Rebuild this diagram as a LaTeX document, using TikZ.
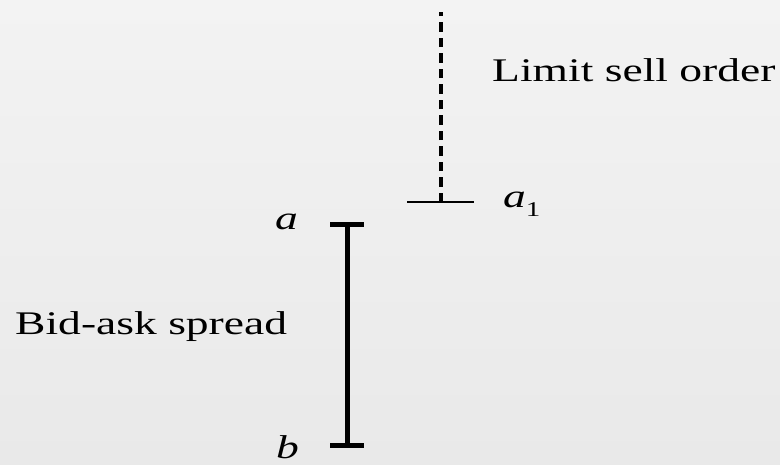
\documentclass[tikz,border=0pt]{standalone}
\usepackage{fontspec}
\usepackage{graphicx}
\setmainfont{Liberation Serif}
\definecolor{bgtop}{RGB}{243,243,243}
\definecolor{bgbot}{RGB}{233,233,233}
\newcommand{\wide}[1]{\scalebox{1.38}[1]{#1}}
\tikzset{
  lbl/.style={inner sep=0pt, anchor=base west, font=\fontsize{33}{40}\selectfont},
  spreadbar/.style={line width=5pt, black},
  capbar/.style={line width=5pt, black},
  orderline/.style={line width=4pt, black, dash pattern=on 9.5pt off 6pt},
  tickline/.style={line width=1.6pt, black}
}
\begin{document}
\begin{tikzpicture}[x=1pt,y=-1pt]
\useasboundingbox (0,0) rectangle (780,464);
\clip (0,0) rectangle (780,464);
\shade[top color=bgtop, bottom color=bgbot] (0,0) rectangle (780,464);
% coordinates
\coordinate (atop) at (347,224);
\coordinate (bbot) at (347,445);
\coordinate (atopL) at (330,224);
\coordinate (atopR) at (364,224);
\coordinate (bbotL) at (330,445);
\coordinate (bbotR) at (364,445);
\coordinate (a1pt) at (441,202);
\coordinate (a1L) at (407,202);
\coordinate (a1R) at (474,202);
\coordinate (ordtop) at (441,12);
% bid-ask spread bar
\draw[spreadbar] (atop) -- (bbot);
\draw[capbar] (atopL) -- (atopR);
\draw[capbar] (bbotL) -- (bbotR);
% limit sell order
\draw[orderline] (a1pt) -- (ordtop);
\draw[tickline] (a1L) -- (a1R);
% labels
\node[lbl] (lso) at (492,81) {\wide{Limit sell order}};
\node[lbl] (bas) at (15,334) {\wide{Bid-ask spread}};
\node[lbl] (la) at (275,229) {\wide{\itshape a}};
\node[lbl] (lb) at (276,458) {\wide{\itshape b}};
\node[lbl] (la1) at (503,207) {\wide{{\itshape a}\raisebox{-9pt}{\fontsize{21}{24}\selectfont 1}}};
\end{tikzpicture}
\end{document}
